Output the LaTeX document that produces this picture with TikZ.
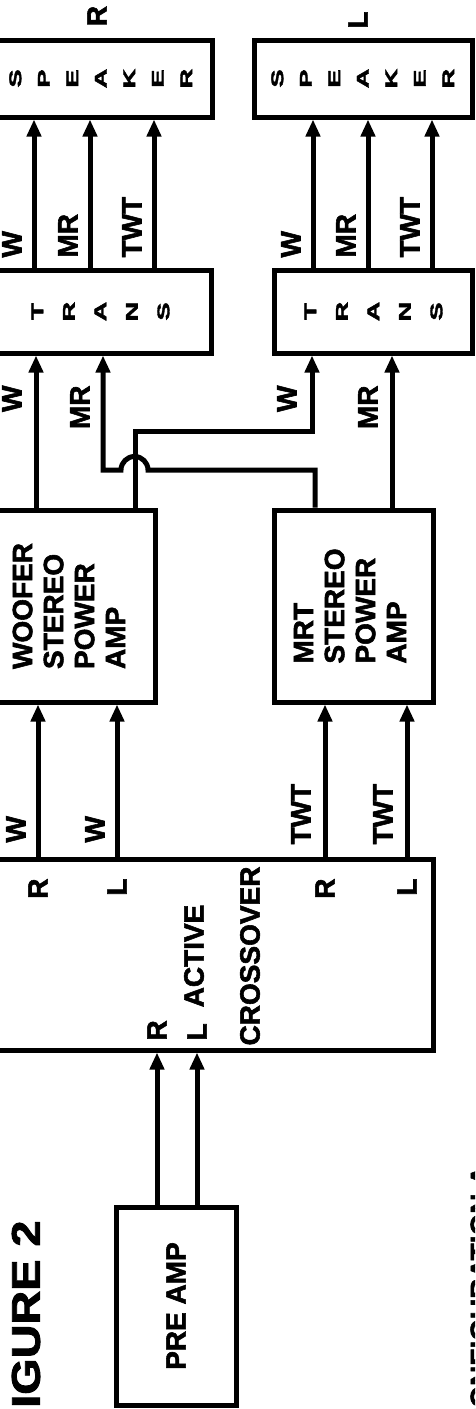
\documentclass[tikz,border=0pt]{standalone}
\usepackage{graphicx}
\usepackage{fontspec}
\setmainfont{Liberation Sans}[BoldFeatures={FakeBold=2}]
\usetikzlibrary{arrows.meta}
\newcommand{\wlt}[1]{\scalebox{1.6}[1]{#1}}
\newcommand{\upcol}[2]{\rotatebox{90}{\begin{tabular}{@{}#1@{}}#2\end{tabular}}}
\begin{document}
\begin{tikzpicture}[x=1pt, y=-1pt, >={Triangle[length=17pt,width=14pt]}, line width=5pt,
    font=\bfseries\fontsize{28}{31}\selectfont]
  \tikzset{box/.style={draw, inner sep=0pt, align=center},
    lab/.style={rotate=90, inner sep=0pt},
    spk/.style={box, font=\bfseries\fontsize{17}{28.5}\selectfont},
    trn/.style={box, font=\bfseries\fontsize{17}{31.5}\selectfont}}
  \path[use as bounding box, clip] (0,0) rectangle (475,1409);
  \node[spk, minimum width=222pt, minimum height=77pt] (spkR) at (101,78.5) {\upcol{c}{\wlt{S}\\\wlt{P}\\\wlt{E}\\\wlt{A}\\\wlt{K}\\\wlt{E}\\\wlt{R}}};
  \node[spk, minimum width=218pt, minimum height=77pt] (spkL) at (363,78.5) {\upcol{c}{\wlt{S}\\\wlt{P}\\\wlt{E}\\\wlt{A}\\\wlt{K}\\\wlt{E}\\\wlt{R}}};
  \node[lab] (chR) at (97,16) {R};
  \node[lab] (chL) at (358,20) {L};
  \node[trn, minimum width=222pt, minimum height=83pt] (trR) at (100,311.5) {\upcol{c}{\wlt{T}\\\wlt{R}\\\wlt{A}\\\wlt{N}\\\wlt{S}}};
  \node[trn, minimum width=198pt, minimum height=83pt] (trL) at (373,311.5) {\upcol{c}{\wlt{T}\\\wlt{R}\\\wlt{A}\\\wlt{N}\\\wlt{S}}};
  \node[box, minimum width=165pt, minimum height=192pt] (wamp) at (72.5,606) {\upcol{l}{WOOFER\\STEREO\\POWER\\AMP}};
  \node[box, minimum width=159pt, minimum height=192pt] (mamp) at (353.5,606) {\upcol{l}{MRT\\STEREO\\POWER\\AMP}};
  \node[box, minimum width=443pt, minimum height=191pt] (xover) at (211.5,954.5) {};
  \node[lab, align=center] (xtxt) at (222,956) {ACTIVE\\[25pt]CROSSOVER};
  \node[box, minimum width=120pt, minimum height=198pt] (pre) at (176,1306) {\rotatebox{90}{PRE AMP}};
  \node[lab, anchor=east, font=\bfseries\fontsize{40}{40}\selectfont] (fig) at (26,1218) {\scalebox{1.17}[1]{FIGURE 2}};
  \node[lab, anchor=north east] (conf) at (468,1163) {CONFIGURATION A};

  \foreach \px/\tx in {34/W,90/MR,154/TWT}{
    \draw[->] (trR.north -| \px,0) -- (spkR.south -| \px,0);
    \node[lab, anchor=south west] (sR\tx) at (\px-10,260) {\tx};
  }
  \foreach \px/\tx in {313/W,368/MR,432/TWT}{
    \draw[->] (trL.north -| \px,0) -- (spkL.south -| \px,0);
    \node[lab, anchor=south west] (sL\tx) at (\px-10,260) {\tx};
  }
  \draw[->] (wamp.north -| 36,0) -- (trR.south -| 36,0);
  \node[lab, anchor=south east] (tRW) at (24,383) {W};
  \draw[->] (mamp.north -| 392,0) -- (trL.south -| 392,0);
  \node[lab, anchor=south east] (tLMR) at (380,383) {MR};
  \draw[->] (wamp.north -| 135,0) -- (135,431) -| (trL.south -| 312,0);
  \node[lab, anchor=south east] (tLW) at (299,383) {W};
  \draw[->] (mamp.north -| 315,0) |- (148,470) arc[start angle=0, end angle=-180, radius=13.5] -- (103,470) -- (trR.south -| 103,0);
  \node[lab, anchor=south east] (tRMR) at (92,383) {MR};

  \foreach \px/\tx/\ch/\k in {38/W/R/a,117/W/L/b}{
    \draw[->] (xover.north -| \px,0) -- (wamp.south -| \px,0);
    \node[lab, anchor=south west] (in\k) at (\px-10,845) {\tx};
    \node[lab, anchor=east] (out\k) at (\px,876) {\ch};
  }
  \foreach \px/\tx/\ch/\k in {325/TWT/R/c,407/TWT/L/d}{
    \draw[->] (xover.north -| \px,0) -- (mamp.south -| \px,0);
    \node[lab, anchor=south west] (in\k) at (\px-12,847) {\tx};
    \node[lab, anchor=east] (out\k) at (\px,876) {\ch};
  }
  \foreach \px/\ch in {157/R,197/L}{
    \draw[->] (pre.north -| \px,0) -- (xover.south -| \px,0);
    \node[lab, anchor=west] (pin\ch) at (\px,1043) {\ch};
  }
\end{tikzpicture}
\end{document}
